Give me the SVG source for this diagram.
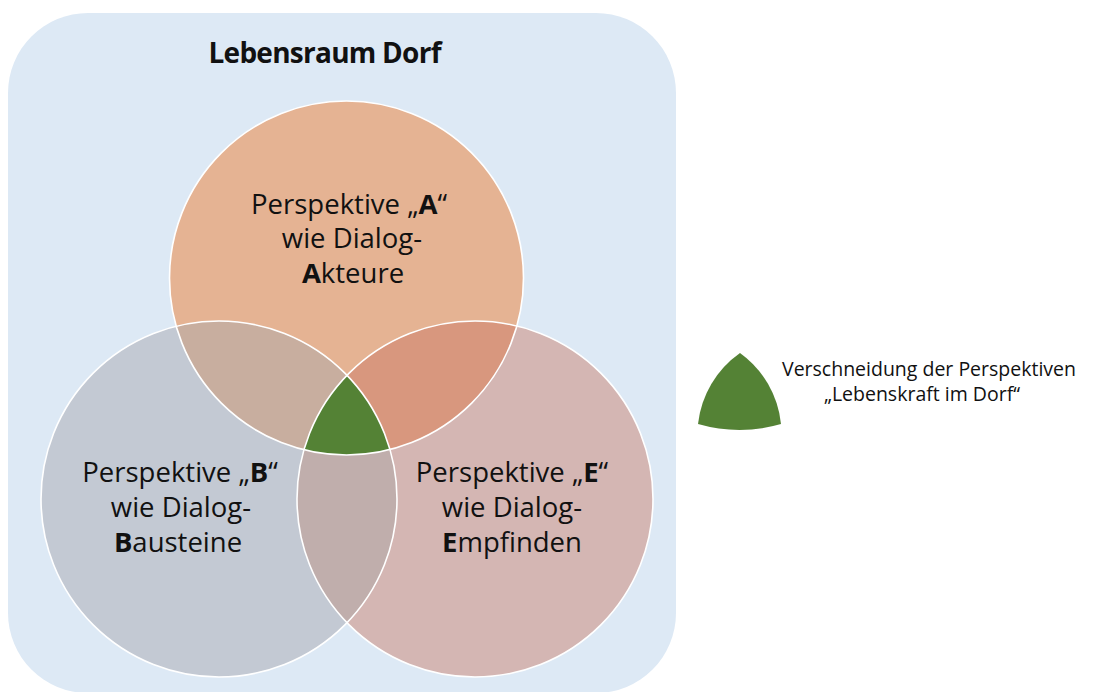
<svg xmlns="http://www.w3.org/2000/svg" width="1098" height="692" viewBox="0 0 1098 692">
  <defs>
    <style>
      text { font-family: "Open Sans", "Liberation Sans", sans-serif; fill: #111; }
      .label { font-size: 27.5px; text-anchor: middle; }
      .title { font-size: 28px; font-weight: bold; text-anchor: middle; }
      .legend-text { font-size: 19.5px; text-anchor: middle; }
      .rim { fill: none; stroke: #ffffff; stroke-width: 1.6; }
      .b { font-weight: bold; }
    </style>
    <clipPath id="clip-a"><circle cx="346.5" cy="278" r="177"/></clipPath>
    <clipPath id="clip-b"><circle cx="219" cy="499" r="178"/></clipPath>
  </defs>

  <rect width="1098" height="692" fill="#ffffff"/>

  <!-- village frame -->
  <g id="lebensraum">
    <rect x="8" y="13" width="668" height="680" rx="80" ry="80" fill="#dde9f5"/>
    <text class="title" x="325" y="63" textLength="233">Lebensraum Dorf</text>
  </g>

  <!-- the three perspectives -->
  <g id="circle-a">
    <circle cx="346.5" cy="278" r="177" fill="#e5b393"/>
  </g>
  <g id="circle-b">
    <circle cx="219" cy="499" r="178" fill="#c3c9d3"/>
  </g>
  <g id="circle-e">
    <circle cx="475" cy="499" r="178" fill="#d4b6b3"/>
  </g>

  <!-- pairwise and triple overlaps -->
  <g id="overlaps">
    <circle cx="219" cy="499" r="178" fill="#c8ae9f" clip-path="url(#clip-a)"/>
    <circle cx="475" cy="499" r="178" fill="#d8977e" clip-path="url(#clip-a)"/>
    <circle cx="475" cy="499" r="178" fill="#c0aeac" clip-path="url(#clip-b)"/>
    <g id="schnittmenge" clip-path="url(#clip-b)">
      <circle cx="475" cy="499" r="178" fill="#548235" clip-path="url(#clip-a)"/>
    </g>
  </g>

  <!-- white rims drawn over all fills -->
  <g id="rims">
    <circle class="rim" cx="346.5" cy="278" r="177"/>
    <circle class="rim" cx="219" cy="499" r="178"/>
    <circle class="rim" cx="475" cy="499" r="178"/>
  </g>

  <g id="label-a">
    <text class="label" x="349" y="214">Perspektive „<tspan class="b">A</tspan>“</text>
    <text class="label" x="352" y="248">wie Dialog-</text>
    <text class="label" x="353" y="283"><tspan class="b">A</tspan>kteure</text>
  </g>
  <g id="label-b">
    <text class="label" x="180" y="482">Perspektive „<tspan class="b">B</tspan>“</text>
    <text class="label" x="181" y="517">wie Dialog-</text>
    <text class="label" x="178" y="552"><tspan class="b">B</tspan>austeine</text>
  </g>
  <g id="label-e">
    <text class="label" x="512" y="482">Perspektive „<tspan class="b">E</tspan>“</text>
    <text class="label" x="512" y="517">wie Dialog-</text>
    <text class="label" x="512" y="552"><tspan class="b">E</tspan>mpfinden</text>
  </g>

  <!-- legend -->
  <g id="legend">
    <path d="M740 353 A100 100 0 0 1 781 424 A150 150 0 0 1 698 424 A100 100 0 0 1 740 353 Z" fill="#548235"/>
    <text class="legend-text" x="929" y="376">Verschneidung der Perspektiven</text>
    <text class="legend-text" x="922" y="401">„Lebenskraft im Dorf“</text>
  </g>
</svg>
